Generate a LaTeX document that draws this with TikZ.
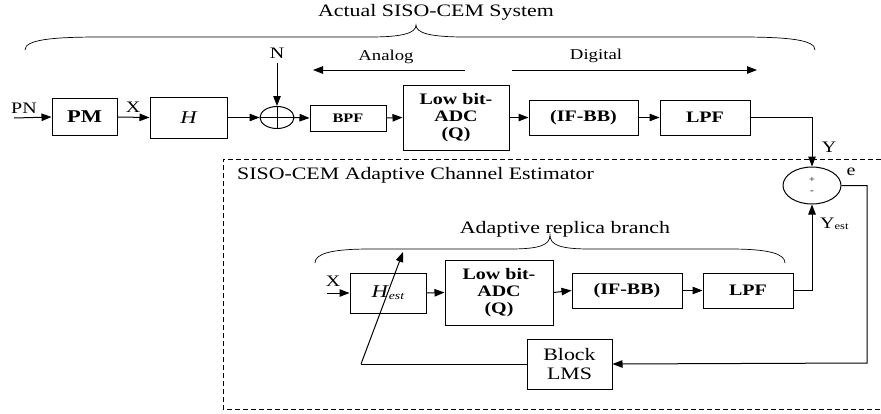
\documentclass[tikz,border=0pt]{standalone}
\usepackage{fontspec}
\setmainfont{Liberation Serif}[FakeStretch=1.25]
\usetikzlibrary{arrows.meta,shapes.geometric}
\tikzset{
  blk/.style={draw,line width=1pt,inner sep=0pt,align=center,font=\bfseries\fontsize{16}{16.7}\selectfont},
  big/.style={inner sep=0pt,font=\fontsize{17.5}{19}\selectfont},
  lbl/.style={inner sep=0pt,font=\fontsize{16}{18}\selectfont},
  sml/.style={inner sep=0pt,font=\fontsize{15}{17}\selectfont},
  wire/.style={line width=1pt},
  arr/.style={line width=1pt,-{Triangle[length=10pt,width=7.5pt]}},
  dsh/.style={line width=0.7pt,dash pattern=on 5pt off 3pt},
  brc/.style={line width=0.7pt},
}
\begin{document}
\begin{tikzpicture}[x=1pt,y=-1pt]
\useasboundingbox (0,0) rectangle (881,413);
% top heading and brace
\node[big] (head) at (436,12) {Actual SISO-CEM System};
\draw[brc] (25,50) .. controls (25,40) and (50,37) .. (100,37) -- (370,37) .. controls (403,37) and (416,33) .. (416,25)
  .. controls (416,33) and (430,37) .. (465,37) -- (740,37) .. controls (790,37) and (815,40) .. (815,50);
% analog / digital
\node[sml] (analog) at (386,57) {Analog};
\node[sml] (digital) at (596,56) {Digital};
\coordinate (an1) at (465,70); \coordinate (an2) at (313,70);
\coordinate (dg1) at (512,70); \coordinate (dg2) at (757,70);
\draw[arr] (an1) -- (an2);
\draw[arr] (dg1) -- (dg2);
% upper chain
\node[lbl] (pn) at (24,108) {PN};
\coordinate (pnin) at (14,118);
\node[blk,minimum width=65pt,minimum height=37pt,font=\bfseries\fontsize{18}{20}\selectfont] (pm) at (84.5,117) {PM};
\node[lbl] (xa) at (133,107) {X};
\node[blk,minimum width=77pt,minimum height=41pt,font=\fontsize{18}{20}\selectfont\itshape] (h) at (188.5,117.5) {H};
\node[draw,ellipse,line width=1pt,minimum width=34pt,minimum height=22pt,inner sep=0pt] (s1) at (277,117.5) {};
\draw[wire] (s1.north) -- (s1.south);
\draw[wire] (s1.west) -- (s1.east);
\node[lbl] (n) at (277,53) {N};
\coordinate (nin) at (277,63);
\node[blk,minimum width=76pt,minimum height=26pt,font=\bfseries\fontsize{13}{15}\selectfont] (bpf) at (348,118) {BPF};
\node[blk,minimum width=106pt,minimum height=65pt] (adc1) at (456,117.5) {Low bit-\\ADC\\(Q)};
\node[blk,minimum width=109pt,minimum height=35pt] (if1) at (583.5,117.5) {(IF-BB)};
\node[blk,minimum width=90pt,minimum height=35pt] (lpf1) at (705,117.5) {LPF};
\draw[arr] (pnin) -- (pm.west);
\draw[arr] (pm.east) -- (h.west);
\draw[arr] (h.east) -- (s1.west);
\draw[arr] (nin) -- (s1.north);
\draw[arr] (s1.east) -- (bpf.west);
\draw[arr] (bpf.east) -- (adc1.west);
\draw[arr] (adc1.east) -- (if1.west);
\draw[arr] (if1.east) -- (lpf1.west);
% estimator box
\draw[dsh] (881,159) -- (223,159) -- (223,409) -- (881,409);
\node[big,anchor=west] (esttitle) at (237,175) {SISO-CEM Adaptive Channel Estimator};
% error summer
\node[draw,ellipse,line width=1pt,minimum width=58pt,minimum height=37pt,inner sep=0pt] (s2) at (812,185.5) {};
\node[inner sep=0pt,font=\fontsize{9}{10}\selectfont] (plus) at (812,180) {+};
\node[inner sep=0pt,font=\fontsize{9}{10}\selectfont] (minus) at (812,192) {-};
\node[lbl] (ylab) at (829,147) {Y};
\node[lbl] (elab) at (851,172) {e};
\node[inner sep=0pt,anchor=west] (yest) at (820,224) {\fontsize{16}{18}\selectfont Y\fontsize{10}{12}\selectfont\raisebox{-0.3ex}{est}};
\draw[arr] (lpf1.east) -- (812,117.5) -- (s2.north);
% replica branch
\node[big] (branch) at (565,229) {Adaptive replica branch};
\draw[brc] (315,263) .. controls (315,254) and (330,249) .. (370,249) -- (510,249) .. controls (540,249) and (550,245) .. (550,235)
  .. controls (550,245) and (560,249) .. (590,249) -- (730,249) .. controls (770,249) and (785,254) .. (785,263);
\node[lbl] (xb) at (333,281) {X};
\coordinate (xin) at (327,293);
\node[blk,minimum width=76pt,minimum height=40pt,font=\fontsize{18}{20}\selectfont] (hest) at (388,293) {\textit{H}\fontsize{11}{12}\selectfont\raisebox{-0.4ex}{\textit{est}}};
\node[blk,minimum width=108pt,minimum height=65pt] (adc2) at (499,292.5) {Low bit-\\ADC\\(Q)};
\node[blk,minimum width=110pt,minimum height=35pt] (if2) at (627,290.5) {(IF-BB)};
\node[blk,minimum width=90pt,minimum height=35pt] (lpf2) at (748,290.5) {LPF};
\draw[arr] (xin) -- (hest.west);
\draw[arr] (hest.east) -- (adc2.west);
\draw[arr] (adc2.east) -- (if2.west);
\draw[arr] (if2.east) -- (lpf2.west);
\draw[arr] (lpf2.east) -- (812,290.5) -- (s2.south);
% LMS feedback
\node[draw,line width=1pt,inner sep=0pt,align=center,minimum width=85pt,minimum height=50pt,font=\fontsize{17.5}{18.3}\selectfont] (lms) at (569.5,364) {Block\\LMS};
\draw[arr] (s2.east) -- (867,185.5) -- (867,363) -- (lms.east);
\coordinate (fb1) at (361,364);
\coordinate (fb2) at (403,252);
\draw[wire] (lms.west) -- (fb1);
\draw[arr] (fb1) -- (fb2);
\end{tikzpicture}
\end{document}
